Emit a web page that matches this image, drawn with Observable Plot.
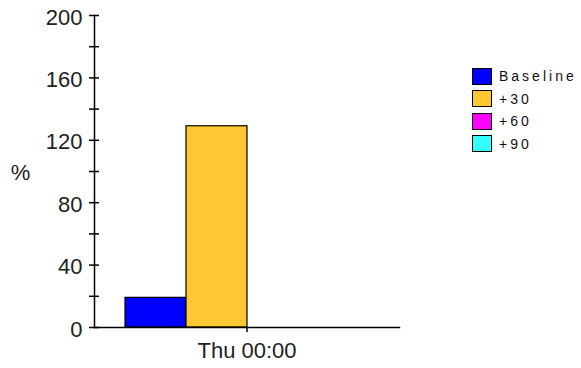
<!DOCTYPE html>
<html><head><meta charset="utf-8">
<script src="https://cdn.jsdelivr.net/npm/d3@7"></script>
<script src="https://cdn.jsdelivr.net/npm/@observablehq/plot@0.6"></script>
<style>
body{margin:0;background:#fff;}
#wrap{position:relative;width:581px;height:368px;}
#legend{position:absolute;left:472px;top:65px;font:14px "Liberation Sans",Arial,sans-serif;letter-spacing:3px;color:#111;}
.row{display:flex;align-items:center;height:22.5px;}
.sw{box-sizing:border-box;width:20px;height:17px;border:1px solid #000;margin-right:7px;}
</style></head><body><div id="wrap"><div id="legend"></div></div>
<script>
const categories = ["Thu 00:00"];
const series = ["Baseline", "+30", "+60", "+90"];
const values = [19, 129, 0, 0];
const colors = ["#0000ff", "#ffc832", "#ff00ff", "#33ffff"];
const yTicks = d3.range(0, 201, 20);
const yLabels = d3.range(0, 201, 40);
const yTitle = "%";

const data = series.map((s, i) => ({time: categories[0], series: s, value: values[i]}));

const chart = Plot.plot({
  width: 581, height: 368,
  marginLeft: 94, marginRight: 182, marginTop: 15, marginBottom: 41,
  style: {fontFamily: '"Liberation Sans", Arial, sans-serif', fontSize: "22px", color: "#222", background: "#fff"},
  fx: {domain: categories, padding: 0, label: null, axis: null},
  x: {domain: series, paddingInner: 0, paddingOuter: 0.46, axis: null},
  y: {domain: [0, 200], axis: null, label: null},
  color: {domain: series, range: colors},
  marks: [
    Plot.barY(data, {fx: "time", x: "series", y: "value", fill: "series", stroke: "#000", strokeWidth: 1.2, inset: 0}),
    Plot.frame({anchor: "left", stroke: "#000", strokeWidth: 1.5}),
    Plot.frame({anchor: "bottom", stroke: "#000", strokeWidth: 1.5}),
    Plot.axisY({ticks: yTicks, tickSize: 10, dx: 5, tickFormat: () => "", label: null, stroke: "#000", strokeWidth: 1.5}),
    Plot.axisY({ticks: yLabels, tickSize: 0, tickPadding: 12, dy: 2, label: null, fill: "#222"}),
    Plot.axisFx({anchor: "bottom", tickSize: 5, tickPadding: 10, label: null, stroke: "#000", strokeWidth: 1.5, fill: "#222"}),
    Plot.text([yTitle], {frameAnchor: "left", textAnchor: "middle", dx: -74, dy: 1, fontSize: 22, fill: "#222"})
  ]
});
document.getElementById("wrap").prepend(chart);

const legend = document.getElementById("legend");
series.forEach((s, i) => {
  const row = document.createElement("div");
  row.className = "row";
  const sw = document.createElement("div");
  sw.className = "sw";
  sw.style.background = colors[i];
  const t = document.createElement("span");
  t.textContent = s;
  row.append(sw, t);
  legend.append(row);
});
</script>
</body></html>
